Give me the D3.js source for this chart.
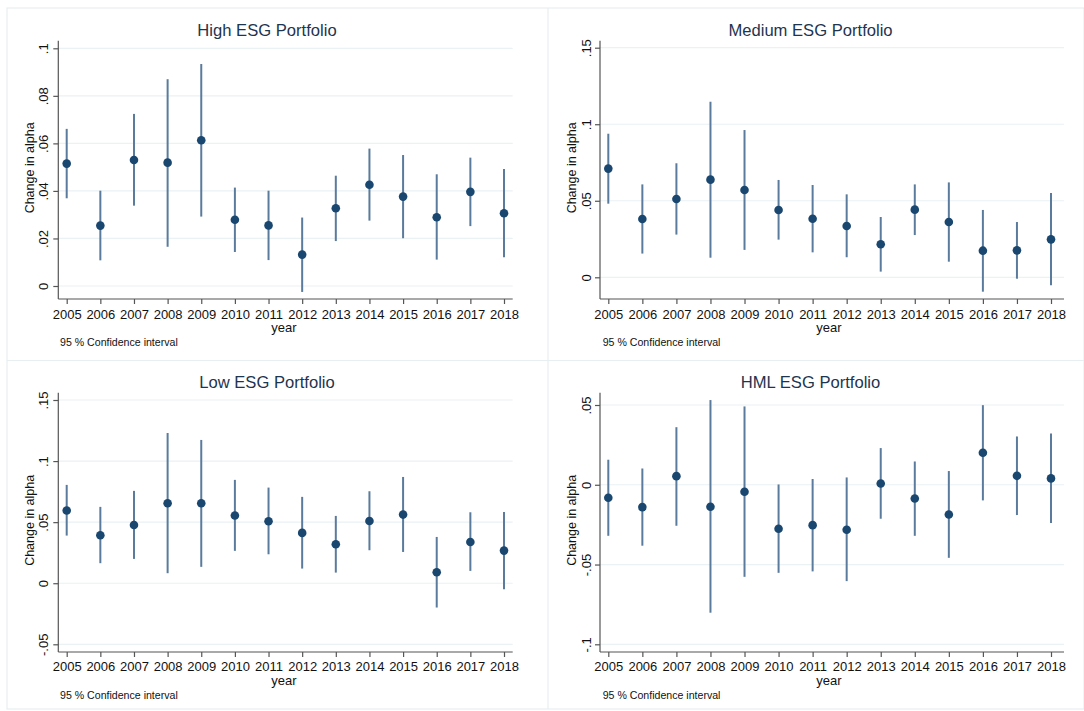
<!DOCTYPE html>
<html><head><meta charset="utf-8">
<script src="https://cdn.jsdelivr.net/npm/d3@7"></script>
<style>
html,body{margin:0;padding:0;background:#fff;}
text{font-family:"Liberation Sans",Arial,sans-serif;}
</style></head>
<body><svg id="chart" width="1084" height="711"></svg>
<script>
const years = [2005,2006,2007,2008,2009,2010,2011,2012,2013,2014,2015,2016,2017,2018];

const highEst = [0.0515,0.0254,0.0530,0.0519,0.0613,0.0279,0.0255,0.0132,0.0327,0.0426,0.0376,0.0289,0.0396,0.0306];
const highLo  = [0.0369,0.0108,0.0338,0.0165,0.0292,0.0143,0.0109,-0.0025,0.0189,0.0275,0.0201,0.0111,0.0252,0.0121];
const highHi  = [0.0661,0.0401,0.0724,0.0870,0.0934,0.0414,0.0401,0.0288,0.0464,0.0578,0.0551,0.0470,0.0540,0.0492];

const medEst = [0.0710,0.0381,0.0512,0.0638,0.0570,0.0440,0.0383,0.0335,0.0216,0.0442,0.0361,0.0174,0.0176,0.0248];
const medLo  = [0.0481,0.0155,0.0279,0.0128,0.0179,0.0246,0.0163,0.0131,0.0037,0.0276,0.0102,-0.0094,-0.0009,-0.0052];
const medHi  = [0.0938,0.0607,0.0745,0.1147,0.0962,0.0636,0.0603,0.0542,0.0394,0.0607,0.0620,0.0440,0.0361,0.0551];

const lowEst = [0.0595,0.0393,0.0477,0.0655,0.0655,0.0554,0.0507,0.0412,0.0319,0.0510,0.0562,0.0090,0.0338,0.0267];
const lowLo  = [0.0390,0.0164,0.0199,0.0082,0.0134,0.0265,0.0237,0.0120,0.0087,0.0270,0.0256,-0.0199,0.0101,-0.0049];
const lowHi  = [0.0805,0.0625,0.0756,0.1230,0.1173,0.0846,0.0783,0.0707,0.0551,0.0753,0.0870,0.0379,0.0581,0.0584];

const hmlEst = [-0.0081,-0.0140,0.0054,-0.0138,-0.0044,-0.0276,-0.0253,-0.0282,0.0008,-0.0086,-0.0186,0.0201,0.0056,0.0040];
const hmlLo  = [-0.0320,-0.0382,-0.0257,-0.0802,-0.0577,-0.0552,-0.0543,-0.0604,-0.0213,-0.0320,-0.0458,-0.0098,-0.0190,-0.0240];
const hmlHi  = [0.0157,0.0102,0.0361,0.0531,0.0491,0.0002,0.0036,0.0046,0.0230,0.0146,0.0086,0.0499,0.0303,0.0322];

const highTicks = [0,0.02,0.04,0.06,0.08,0.1];
const medTicks  = [0,0.05,0.1,0.15];
const lowTicks  = [-0.05,0,0.05,0.1,0.15];
const hmlTicks  = [-0.1,-0.05,0,0.05];

const titles = ["High ESG Portfolio","Medium ESG Portfolio","Low ESG Portfolio","HML ESG Portfolio"];
const yTitle = "Change in alpha";
const xTitle = "year";
const noteText = "95 % Confidence interval";

const fmt = v => {
  if (v === 0) return "0";
  let s = String(+v.toFixed(4));
  return s.replace(/^(-?)0\./, "$1.");
};

const cols = [
  {axisX:58.3, firstX:66.7, lastX:504, right:512.7, tickLblX:43, yTitleX:30, noteX:60, titleX:267, yearX:284},
  {axisX:600, firstX:608.3, lastX:1051, right:1064, tickLblX:586.7, yTitleX:571.7, noteX:602.7, titleX:810.5, yearX:829}
];
const rows = [
  {titleY:30, top:40.7, bottom:299, tickLblY:314, yearY:327, noteY:342},
  {titleY:382, top:392.7, bottom:652, tickLblY:666.7, yearY:680, noteY:695}
];

const panels = [
  {c:0, r:0, est:highEst, lo:highLo, hi:highHi, ticks:highTicks, dom:[0,0.1], rng:[286,48.3], title:titles[0]},
  {c:1, r:0, est:medEst, lo:medLo, hi:medHi, ticks:medTicks, dom:[0,0.15], rng:[277.3,47.7], title:titles[1]},
  {c:0, r:1, est:lowEst, lo:lowLo, hi:lowHi, ticks:lowTicks, dom:[-0.05,0.15], rng:[644.3,400], title:titles[2]},
  {c:1, r:1, est:hmlEst, lo:hmlLo, hi:hmlHi, ticks:hmlTicks, dom:[-0.1,0.05], rng:[644.3,405], title:titles[3]}
];

const svg = d3.select("#chart");
const frameColor = "#e8eff0";

// panel frames
svg.append("rect").attr("x",7).attr("y",8).attr("width",1077).attr("height",701)
  .attr("fill","none").attr("stroke",frameColor).attr("stroke-width",1.2);
svg.append("line").attr("x1",548).attr("x2",548).attr("y1",8).attr("y2",709).attr("stroke",frameColor).attr("stroke-width",1.2);
svg.append("line").attr("x1",7).attr("x2",1084).attr("y1",360.5).attr("y2",360.5).attr("stroke",frameColor).attr("stroke-width",1.2);

const markColor = "#1a476f";
const spikeColor = "#5a7b9c";

panels.forEach(p => {
  const C = cols[p.c], R = rows[p.r];
  const g = svg.append("g");
  const x = d3.scaleLinear().domain([years[0], years[years.length-1]]).range([C.firstX, C.lastX]);
  const y = d3.scaleLinear().domain(p.dom).range(p.rng);

  // gridlines
  g.selectAll(".grid").data(p.ticks).enter().append("line")
    .attr("x1",C.axisX).attr("x2",C.right)
    .attr("y1",d=>y(d)).attr("y2",d=>y(d))
    .attr("stroke","#eaf2f3").attr("stroke-width",1.2);

  // y axis
  const yAxis = d3.axisLeft(y).tickValues(p.ticks).tickSize(5).tickFormat(fmt);
  const ya = g.append("g").attr("transform",`translate(${C.axisX},0)`).call(yAxis);
  ya.select(".domain").attr("d",`M0,${R.top}V${R.bottom}`).attr("stroke","#555").attr("stroke-width",1.2);
  ya.selectAll(".tick line").attr("stroke","#555").attr("stroke-width",1.2);
  ya.selectAll(".tick text").attr("x",null).attr("dy",null)
    .attr("transform",`translate(${C.tickLblX - C.axisX},0) rotate(-90)`)
    .attr("text-anchor","middle").attr("dominant-baseline","central")
    .attr("font-size",13).attr("fill","#111");

  // x axis
  const xAxis = d3.axisBottom(x).tickValues(years).tickSize(5).tickFormat(d3.format("d"));
  const xa = g.append("g").attr("transform",`translate(0,${R.bottom})`).call(xAxis);
  xa.select(".domain").attr("d",`M${C.axisX},0H${C.right}`).attr("stroke","#555").attr("stroke-width",1.2);
  xa.selectAll(".tick line").attr("stroke","#555").attr("stroke-width",1.2);
  xa.selectAll(".tick text").attr("y",R.tickLblY - R.bottom).attr("dy",null)
    .attr("dominant-baseline","central").attr("font-size",13).attr("fill","#111");

  // spikes
  g.selectAll(".spike").data(years).enter().append("line")
    .attr("x1",d=>x(d)).attr("x2",d=>x(d))
    .attr("y1",(d,i)=>y(p.lo[i])).attr("y2",(d,i)=>y(p.hi[i]))
    .attr("stroke",spikeColor).attr("stroke-width",2);

  // markers
  g.selectAll(".pt").data(years).enter().append("circle")
    .attr("cx",d=>x(d)).attr("cy",(d,i)=>y(p.est[i])).attr("r",4.3)
    .attr("fill",markColor);

  // titles
  g.append("text").attr("x",C.titleX).attr("y",R.titleY).attr("text-anchor","middle")
    .attr("dominant-baseline","central").attr("font-size",16.6).attr("fill","#1e3550").text(p.title);
  g.append("text").attr("transform",`translate(${C.yTitleX},${(R.top+R.bottom)/2 - 2}) rotate(-90)`)
    .attr("text-anchor","middle").attr("dominant-baseline","central")
    .attr("font-size",12.5).attr("fill","#111").text(yTitle);
  g.append("text").attr("x",C.yearX).attr("y",R.yearY).attr("text-anchor","middle")
    .attr("dominant-baseline","central").attr("font-size",13).attr("fill","#111").text(xTitle);
  g.append("text").attr("x",C.noteX).attr("y",R.noteY)
    .attr("dominant-baseline","central").attr("font-size",10.6).attr("fill","#111").text(noteText);
});
</script></body></html>
